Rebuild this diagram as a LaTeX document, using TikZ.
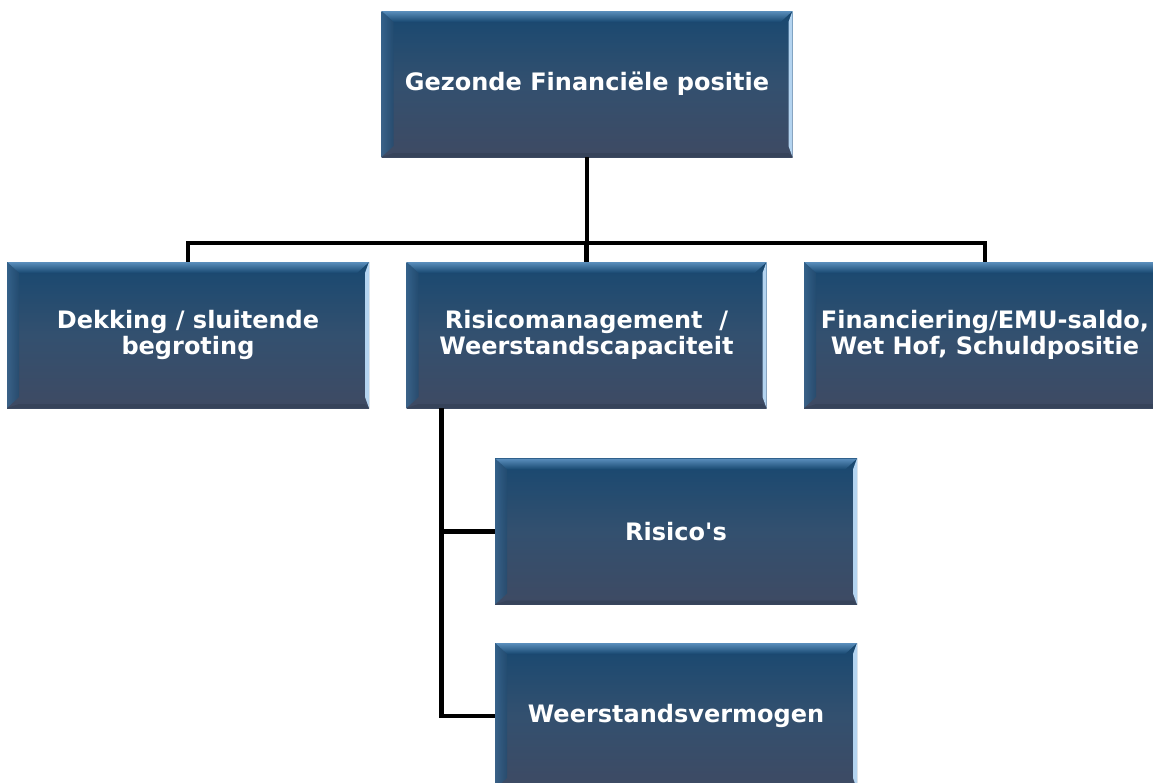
\documentclass[tikz,border=0pt]{standalone}
\usepackage{fontspec}
\setmainfont{DejaVu Sans}
\usetikzlibrary{calc}
\definecolor{btop}{HTML}{184870}
\definecolor{bmid}{HTML}{33506F}
\definecolor{bbot}{HTML}{3E4A63}
\definecolor{bevtop}{HTML}{5A8EBC}
\definecolor{bevleft}{HTML}{3A6790}
\definecolor{bevright}{HTML}{B4D4F0}
\definecolor{bevbot}{HTML}{36435A}
\tikzset{
  orgbox/.style={rectangle, minimum width=#1, minimum height=146pt, inner sep=0pt,
    top color=btop, bottom color=bbot, middle color=bmid,
    text=white, font=\bfseries\fontsize{24}{26}\selectfont, align=center,
    path picture={
      \coordinate (ppnw) at (path picture bounding box.north west);
      \coordinate (ppne) at (path picture bounding box.north east);
      \coordinate (ppsw) at (path picture bounding box.south west);
      \coordinate (ppse) at (path picture bounding box.south east);
      \shade[top color=bevtop, bottom color=btop] (ppnw) -- (ppne) -- ([shift={(-12pt,-11pt)}]ppne) -- ([shift={(12pt,-11pt)}]ppnw) -- cycle;
      \shade[left color=bevleft, right color=btop!60!bmid, opacity=0.8] (ppnw) -- ([shift={(12pt,-11pt)}]ppnw) -- ([shift={(12pt,11pt)}]ppsw) -- (ppsw) -- cycle;
      \fill[bevright] (ppne) -- ([shift={(-4pt,-11pt)}]ppne) -- ([shift={(-4pt,11pt)}]ppse) -- (ppse) -- cycle;
      \fill[bevbot] (ppsw) -- ([shift={(12pt,4pt)}]ppsw) -- ([shift={(-4pt,4pt)}]ppse) -- (ppse) -- cycle;
    }},
  orgbox/.default=362pt,
  conn/.style={draw=black, line width=4.5pt, line join=miter}
}
\begin{document}
\begin{tikzpicture}[x=1pt,y=-1pt]
\useasboundingbox[fill=white] (0,0) rectangle (1153,782);
\node[orgbox=411pt] (top) at (587,84) {Gezonde Financiële positie};
\node[orgbox] (left) at (188,335) {Dekking / sluitende\\begroting};
\node[orgbox=360pt] (mid) at (586.5,335) {Risicomanagement~~/\\Weerstandscapaciteit};
\node[orgbox] (right) at (985,335) {Financiering/EMU-saldo,\\Wet Hof, Schuldpositie};
\node[orgbox] (risk) at (676,531.5) {Risico\textquotesingle s};
\node[orgbox] (weer) at (676,716) {Weerstandsvermogen};
\coordinate (bus) at (587,243);
\coordinate (spine) at ([xshift=35pt]mid.south west);
\draw[conn] (top.south) -- (bus);
\draw[conn] (left.north) |- (bus) -| (right.north);
\draw[conn] (mid.north) -- (mid.north |- bus);
\draw[conn] (spine) |- (risk.west);
\draw[conn] (spine) |- (weer.west);
\end{tikzpicture}
\end{document}
